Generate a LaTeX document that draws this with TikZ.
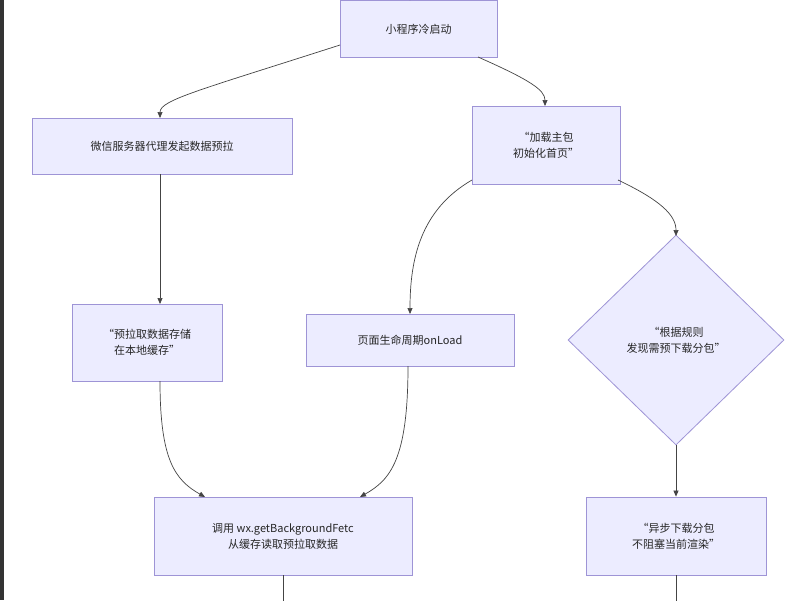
\documentclass[tikz,border=0pt]{standalone}
\usepackage{fontspec}
\newfontfamily\cjk{Noto Sans CJK SC}
\usetikzlibrary{shapes.geometric,arrows.meta}
\definecolor{boxfill}{HTML}{ECECFF}
\definecolor{boxline}{HTML}{9E94D6}
\definecolor{edge}{HTML}{444444}
\begin{document}
\begin{tikzpicture}[x=1pt,y=-1pt,
  box/.style={draw=boxline,fill=boxfill,line width=0.8pt,font=\cjk\fontsize{11}{16}\selectfont,align=center,text=black!85,inner sep=0pt},
  dia/.style={box,diamond,minimum width=216pt,minimum height=210pt},
  conn/.style={draw=edge,line width=0.7pt,-{Triangle[length=6pt,width=5pt]}},
  plain/.style={draw=edge,line width=0.7pt}]
\useasboundingbox (0,0) rectangle (800,600);
\fill[white] (0,0) rectangle (800,600);
\fill[black!80] (0,0) rectangle (4,600);
\node[box,minimum width=157pt,minimum height=57pt] (A) at (418.5,29) {小程序冷启动};
\node[box,minimum width=260pt,minimum height=56pt] (B) at (162,146) {微信服务器代理发起数据预拉};
\node[box,minimum width=148pt,minimum height=78pt] (C) at (546,145) {“加载主包\\初始化首页”};
\node[box,minimum width=150pt,minimum height=77pt] (D) at (147,342.5) {“预拉取数据存储\\在本地缓存”};
\node[box,minimum width=208pt,minimum height=52pt] (E) at (410,340) {页面生命周期onLoad};
\node[dia] (F) at (676,340) {“根据规则\\发现需预下载分包”};
\node[box,minimum width=258pt,minimum height=78pt] (G) at (283,536) {调用 wx.getBackgroundFetc\\从缓存读取预拉取数据};
\node[box,minimum width=180pt,minimum height=78pt] (H) at (676,536) {“异步下载分包\\不阻塞当前渲染”};
\coordinate (top) at (410,-2);
\coordinate (gb) at (283,602);
\coordinate (hb) at (676,602);
\draw[conn] (top) -- (410,0.5);
\draw[conn] (340,45) .. controls (200,90) and (160,100) .. (160,118);
\draw[conn] (478,57) .. controls (530,80) and (545,90) .. (545,106);
\draw[conn] (472,180) .. controls (420,210) and (410,260) .. (410,314);
\draw[conn] (618,180) .. controls (660,200) and (676,215) .. (676,236);
\draw[conn] (B.south -| 160,0) -- (160,304);
\draw[conn] (160,381) .. controls (160,460) and (175,480) .. (205,497);
\draw[conn] (408,366) .. controls (408,460) and (390,480) .. (360,497);
\draw[conn] (F.south) -- (H.north);
\draw[plain] (G.south) -- (gb);
\draw[plain] (H.south) -- (hb);
\end{tikzpicture}
\end{document}
